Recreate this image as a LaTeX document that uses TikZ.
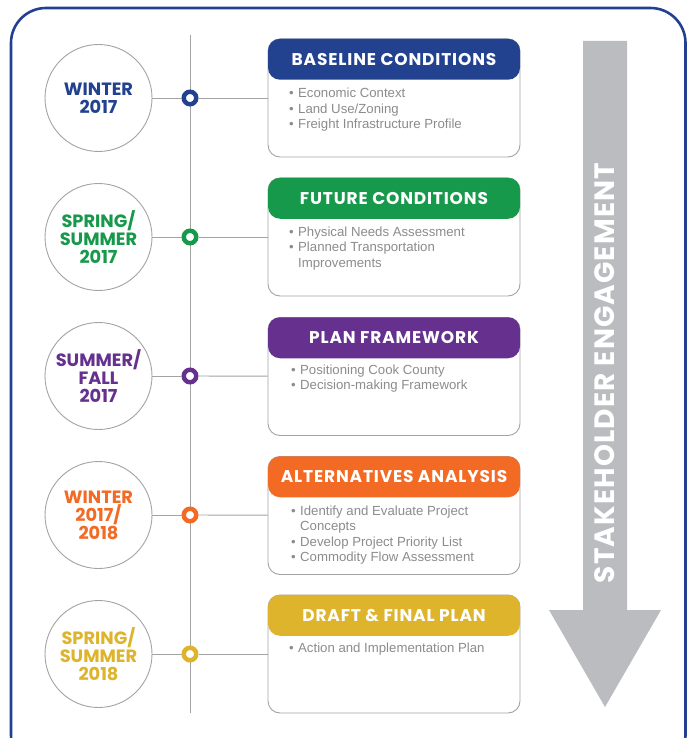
\documentclass[tikz,border=0pt]{standalone}
\usepackage{fontspec}
\setmainfont{Liberation Sans}
\newfontfamily\pop{Poppins}
\newfontfamily\popls{Poppins}[LetterSpace=5]
\newfontfamily\popar{Poppins}[LetterSpace=4]
\usetikzlibrary{calc}
\definecolor{framec}{HTML}{22408F}
\definecolor{cblue}{HTML}{22428F}
\definecolor{cgreen}{HTML}{16994A}
\definecolor{cpurple}{HTML}{66308F}
\definecolor{corange}{HTML}{F26A24}
\definecolor{cgold}{HTML}{DDB42B}
\definecolor{arrowgray}{HTML}{BBBCC0}
\definecolor{textgray}{HTML}{8C8C8C}
\definecolor{linegray}{HTML}{A3A3A3}
\begin{document}
\begin{tikzpicture}[x=1pt,y=-1pt,
  circ/.style={circle, draw=linegray, line width=0.9pt, fill=white, minimum size=107pt, inner sep=0pt, align=center, font=\pop\bfseries\fontsize{17.8}{18}\selectfont},
  dotring/.style={circle, fill=white, line width=4.5pt, minimum size=12.5pt, inner sep=0pt},
  boxframe/.style={draw=linegray, line width=0.9pt, rounded corners=12pt, minimum width=252pt, minimum height=118pt, fill=white, inner sep=0pt},
  hdr/.style={rounded corners=12pt, minimum width=252pt, minimum height=41pt, inner sep=0pt, text=white, font=\popls\bfseries\fontsize{17}{18}\selectfont, anchor=north},
  item/.style={anchor=base west, inner sep=0pt, text=textgray, font=\fontsize{13.2}{15}\selectfont},
  conn/.style={draw=linegray, line width=0.9pt}]
\useasboundingbox (0,0) rectangle (687,738);
% outer frame
\draw[framec, line width=2.6pt, rounded corners=35pt] (11,8) rectangle (685.5,770);
% stakeholder arrow
\fill[arrowgray] (583,41) -- (627,41) -- (627,610) -- (661,610) -- (605,707) -- (549,610) -- (583,610) -- cycle;
\node[rotate=90, text=white, inner sep=0pt, font=\popar\bfseries\fontsize{28}{30}\selectfont] (se) at (605,373) {STAKEHOLDER ENGAGEMENT};
% timeline
\coordinate (ttop) at (190,35);
\coordinate (tbot) at (190,713);
\draw[conn] (ttop) -- (tbot);
% circles
\node[circ, text=cblue]   (c1) at (98.5,98)  {WINTER\\2017};
\node[circ, text=cgreen]  (c2) at (98.5,237) {SPRING/\\SUMMER\\2017};
\node[circ, text=cpurple] (c3) at (98.5,376) {SUMMER/\\FALL\\2017};
\node[circ, text=corange] (c4) at (98.5,515) {WINTER\\2017/\\2018};
\node[circ, text=cgold]   (c5) at (98.5,654) {SPRING/\\SUMMER\\2018};
% dots
\node[dotring, draw=cblue]   (d1) at (190,98)  {};
\node[dotring, draw=cgreen]  (d2) at (190,237) {};
\node[dotring, draw=cpurple] (d3) at (190,376) {};
\node[dotring, draw=corange] (d4) at (190,515) {};
\node[dotring, draw=cgold]   (d5) at (190,654) {};
% boxes
\node[boxframe] (b1) at (394,98)    {};
\node[boxframe] (b2) at (394,237)   {};
\node[boxframe] (b3) at (394,376.5) {};
\node[boxframe] (b4) at (394,515.5) {};
\node[boxframe] (b5) at (394,654)   {};
\node[hdr, fill=cblue]   (h1) at (b1.north) {BASELINE CONDITIONS};
\node[hdr, fill=cgreen]  (h2) at (b2.north) {FUTURE CONDITIONS};
\node[hdr, fill=cpurple] (h3) at (b3.north) {PLAN FRAMEWORK};
\node[hdr, fill=corange] (h4) at (b4.north) {ALTERNATIVES ANALYSIS};
\node[hdr, fill=cgold]   (h5) at (b5.north) {DRAFT \& FINAL PLAN};
% items
\newcommand{\bul}{\makebox[9pt][l]{•}}
\node[item] (i11) at (289,98)    {\bul Economic Context};
\node[item] (i12) at (289,113.5) {\bul Land Use/Zoning};
\node[item] (i13) at (289,129)   {\bul Freight Infrastructure Profile};
\node[item] (i21) at (289,236.3) {\bul Physical Needs Assessment};
\node[item] (i22) at (289,251.8) {\bul Planned Transportation};
\node[item] (i23) at (298,267.3) {Improvements};
\node[item] (i31) at (291,374)   {\bul Positioning Cook County};
\node[item] (i32) at (291,389.5) {\bul Decision-making Framework};
\node[item] (i41) at (291,515.3) {\bul Identify and Evaluate Project};
\node[item] (i42) at (300,530.8) {Concepts};
\node[item] (i43) at (291,546.3) {\bul Develop Project Priority List};
\node[item] (i44) at (291,561.8) {\bul Commodity Flow Assessment};
\node[item] (i51) at (289,652.6) {\bul Action and Implementation Plan};
% connectors
\foreach \k in {1,...,5}{
  \draw[conn] (c\k) -- (d\k);
  \draw[conn] (d\k) -- (b\k);
}
\end{tikzpicture}
\end{document}
